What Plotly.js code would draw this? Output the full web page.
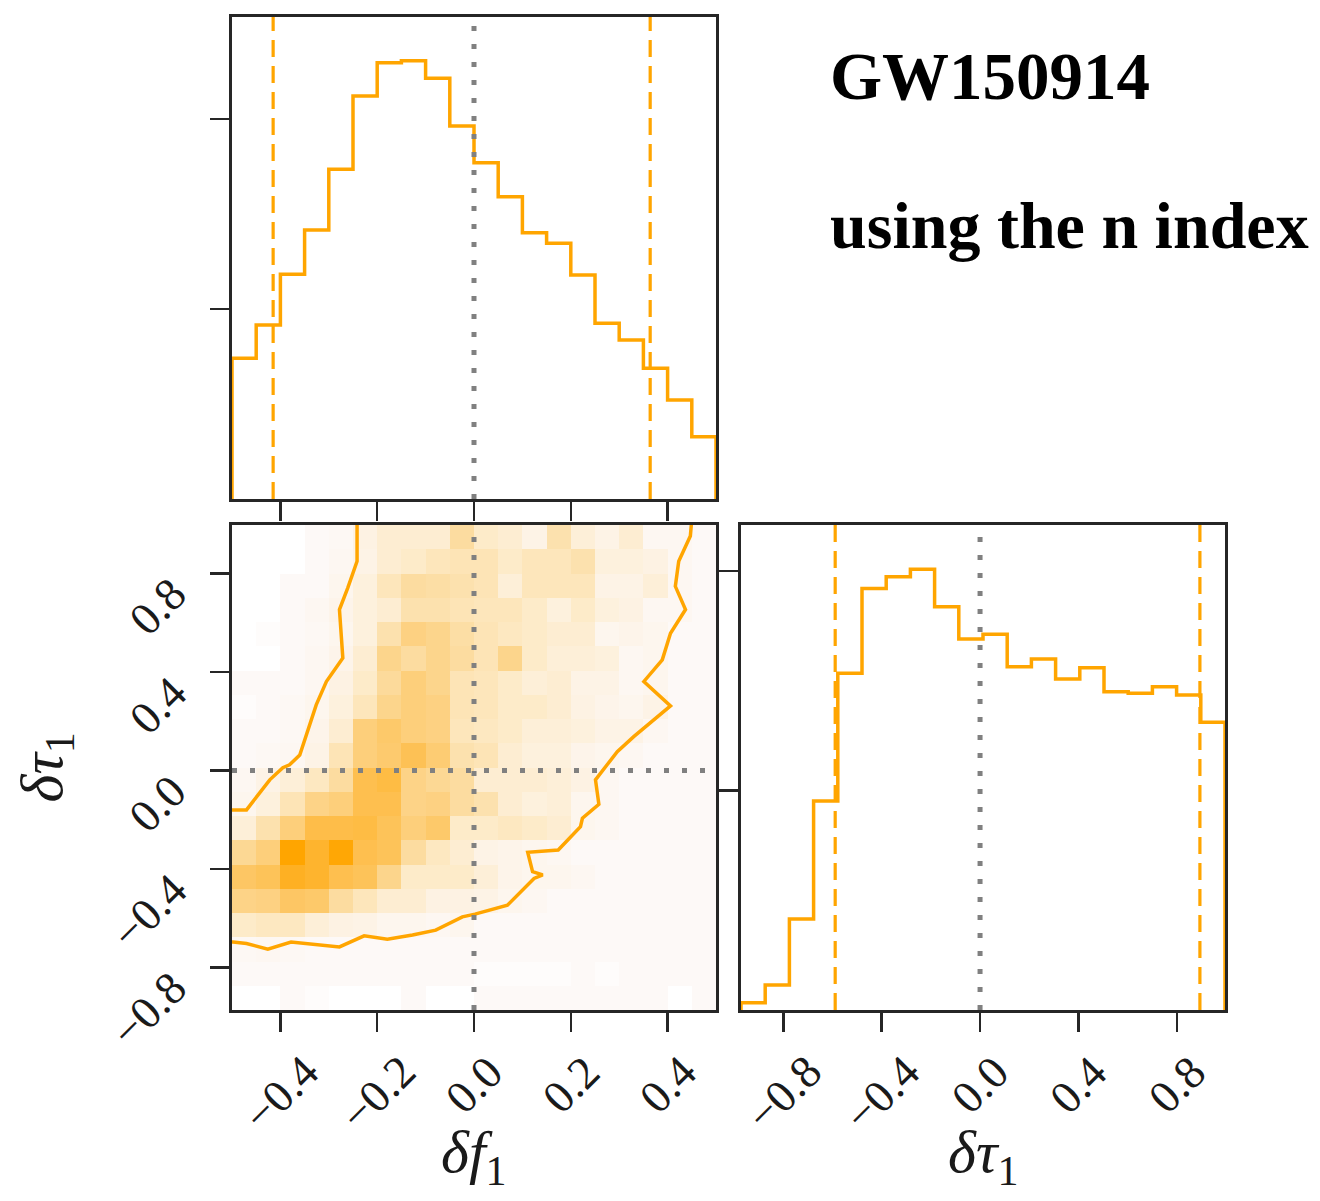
<!DOCTYPE html>
<html>
<head>
<meta charset="utf-8">
<script src="https://cdn.plot.ly/plotly-3.0.1.min.js"></script>
<style>
  html, body { margin: 0; padding: 0; background: #ffffff; }
  #chart { width: 1320px; height: 1201px; }
</style>
</head>
<body>
<div id="chart"></div>
<script>
// ---- posterior samples summarised as binned densities ----

// δf1 marginal: 20 equal bins spanning f1Range
const f1Range = [-0.5, 0.5];
const f1Hist = [0.741, 0.916, 1.183, 1.416, 1.735, 2.121, 2.296, 2.307, 2.214, 1.963,
                1.770, 1.591, 1.402, 1.346, 1.179, 0.925, 0.837, 0.688, 0.521, 0.328];

// δτ1 marginal: 20 equal bins spanning tau1Range
const tau1Range = [-0.972, 0.996];
const tau1Hist = [0.033, 0.114, 0.415, 0.952, 1.534, 1.921, 1.974, 2.008, 1.837, 1.690,
                  1.712, 1.564, 1.599, 1.508, 1.559, 1.450, 1.443, 1.473, 1.435, 1.311];

const nBins = 20;

// GR value of both deviation parameters
const truthF1 = 0.0;
const truthTau1 = 0.0;

// 90% credible bounds of each marginal
const f1Bounds = [-0.415, 0.364];
const tau1Bounds = [-0.589, 0.894];

// joint density (normalised), one row per δτ1 bin from the lowest upward,
// one column per δf1 bin from the left
const density = [
  [0, 0, 0.01, 0.005, 0, 0, 0, 0.01, 0, 0, 0.01, 0.01, 0.01, 0.01, 0.01, 0.01, 0.01, 0.01, 0, 0.01],
  [0.01, 0.01, 0.01, 0.01, 0.01, 0.01, 0.01, 0.01, 0.01, 0.01, 0.005, 0.005, 0.005, 0.005, 0.01, 0.005, 0.01, 0.01, 0.01, 0.01],
  [0.015, 0.02, 0.015, 0.01, 0.01, 0.01, 0.01, 0.01, 0.01, 0.01, 0.01, 0.01, 0.01, 0.01, 0.01, 0.01, 0.01, 0.01, 0.01, 0.01],
  [0.15, 0.18, 0.18, 0.1, 0.06, 0.05, 0.03, 0.03, 0.02, 0.03, 0.01, 0.01, 0.01, 0.01, 0.01, 0.01, 0.01, 0.01, 0.01, 0.01],
  [0.4, 0.42, 0.55, 0.52, 0.3, 0.2, 0.12, 0.12, 0.06, 0.06, 0.05, 0.03, 0.02, 0.01, 0.01, 0.01, 0.01, 0.01, 0.01, 0.01],
  [0.55, 0.6, 0.85, 0.8, 0.65, 0.6, 0.38, 0.15, 0.15, 0.15, 0.1, 0.04, 0.03, 0.03, 0.02, 0.01, 0.01, 0.01, 0.01, 0.01],
  [0.35, 0.45, 1.0, 0.8, 0.98, 0.65, 0.6, 0.3, 0.18, 0.12, 0.05, 0.04, 0.03, 0.02, 0.01, 0.01, 0.01, 0.01, 0.01, 0.01],
  [0.1, 0.25, 0.45, 0.68, 0.68, 0.7, 0.6, 0.45, 0.52, 0.15, 0.15, 0.18, 0.15, 0.12, 0.03, 0.02, 0.01, 0.01, 0.01, 0.01],
  [0.03, 0.08, 0.22, 0.4, 0.45, 0.65, 0.65, 0.4, 0.42, 0.3, 0.25, 0.12, 0.08, 0.1, 0.03, 0.02, 0.01, 0.01, 0.01, 0.01],
  [0.02, 0.05, 0.1, 0.18, 0.3, 0.65, 0.7, 0.4, 0.35, 0.3, 0.12, 0.12, 0.12, 0.1, 0.06, 0.02, 0.01, 0.01, 0.01, 0.01],
  [0.01, 0.015, 0.02, 0.05, 0.22, 0.45, 0.5, 0.62, 0.48, 0.25, 0.22, 0.12, 0.08, 0.08, 0.04, 0.03, 0.02, 0.01, 0.01, 0.01],
  [0.01, 0.01, 0.015, 0.04, 0.12, 0.45, 0.52, 0.45, 0.42, 0.2, 0.18, 0.15, 0.1, 0.1, 0.08, 0.05, 0.05, 0.02, 0.01, 0.01],
  [0.005, 0.01, 0.015, 0.03, 0.08, 0.2, 0.38, 0.45, 0.42, 0.22, 0.2, 0.15, 0.15, 0.12, 0.06, 0.04, 0.03, 0.05, 0.01, 0.01],
  [0.01, 0.01, 0.01, 0.02, 0.06, 0.15, 0.32, 0.45, 0.38, 0.22, 0.2, 0.15, 0.1, 0.12, 0.05, 0.05, 0.02, 0.03, 0.01, 0.01],
  [0, 0, 0.01, 0.02, 0.04, 0.12, 0.38, 0.3, 0.38, 0.3, 0.22, 0.38, 0.15, 0.1, 0.1, 0.08, 0.02, 0.03, 0.01, 0.01],
  [0, 0.005, 0.01, 0.015, 0.03, 0.08, 0.25, 0.42, 0.38, 0.28, 0.22, 0.18, 0.15, 0.12, 0.12, 0.03, 0.04, 0.03, 0.01, 0.01],
  [0, 0, 0.01, 0.02, 0.04, 0.08, 0.12, 0.25, 0.25, 0.22, 0.2, 0.2, 0.15, 0.08, 0.15, 0.08, 0.06, 0.02, 0.02, 0.01],
  [0, 0, 0.01, 0.01, 0.03, 0.08, 0.2, 0.3, 0.28, 0.25, 0.22, 0.1, 0.2, 0.2, 0.2, 0.05, 0.05, 0.1, 0.02, 0.01],
  [0, 0, 0, 0.01, 0.02, 0.05, 0.12, 0.15, 0.2, 0.22, 0.22, 0.15, 0.2, 0.2, 0.25, 0.08, 0.08, 0.06, 0.02, 0.01],
  [0, 0, 0, 0.01, 0.015, 0.06, 0.12, 0.12, 0.12, 0.3, 0.15, 0.12, 0.05, 0.25, 0.1, 0.05, 0.12, 0.02, 0.02, 0.01]
];

// credible-region contour, split where it leaves the panel
const contourUpperF1   = [-0.2416, -0.2416, -0.261, -0.278, -0.271, -0.305, -0.326, -0.360, -0.381, -0.395, -0.422, -0.470, -0.52];
const contourUpperTau1 = [1.02, 0.849, 0.740, 0.653, 0.456, 0.361, 0.266, 0.063, 0.023, 0.011, -0.038, -0.160, -0.160];
const contourLowerF1   = [-0.52, -0.498, -0.470, -0.426, -0.378, -0.278, -0.227, -0.179, -0.127, -0.079, -0.024, 0.002,
                          0.069, 0.124, 0.142, 0.121, 0.111, 0.174, 0.220, 0.224, 0.258, 0.251, 0.275, 0.296, 0.330,
                          0.406, 0.351, 0.389, 0.406, 0.437, 0.416, 0.423, 0.447, 0.450];
const contourLowerTau1 = [-0.696, -0.696, -0.702, -0.725, -0.696, -0.716, -0.671, -0.685, -0.668, -0.648, -0.594, -0.583,
                          -0.547, -0.438, -0.424, -0.411, -0.332, -0.323, -0.228, -0.194, -0.137, -0.038, 0.023, 0.076, 0.137,
                          0.262, 0.361, 0.449, 0.557, 0.653, 0.747, 0.849, 0.951, 1.02];

// tick positions
const f1Ticks = [-0.4, -0.2, 0.0, 0.2, 0.4];
const tau1Ticks = [-0.8, -0.4, 0.0, 0.4, 0.8];
const histTicks = [1, 2];

// event name and analysis note
const eventName = 'GW150914';
const analysisNote = 'using the n index';

// ---- helpers ----
const ORANGE = '#ffa500';
const AXIS = '#262626';
const TRUTH = '#808080';
const SERIF = 'Liberation Serif, Times New Roman, serif';

function binEdges(range, n) {
  const w = (range[1] - range[0]) / n;
  return Array.from({ length: n + 1 }, (_, i) => range[0] + i * w);
}

function stepOutline(edges, heights) {
  const x = [edges[0]];
  const y = [0];
  heights.forEach((h, i) => { x.push(edges[i]); y.push(h); });
  x.push(edges[edges.length - 1]); y.push(heights[heights.length - 1]);
  x.push(edges[edges.length - 1]); y.push(0);
  return { x, y };
}

function tickText(v) {
  const s = Math.abs(v).toFixed(1);
  return v < 0 ? '\u2212' + s : s;
}

const f1Edges = binEdges(f1Range, nBins);
const tau1Edges = binEdges(tau1Range, nBins);
const f1Step = stepOutline(f1Edges, f1Hist);
const tau1Step = stepOutline(tau1Edges, tau1Hist);

// ---- traces ----
const traces = [
  {
    type: 'scatter', mode: 'lines', xaxis: 'x', yaxis: 'y',
    x: f1Step.x, y: f1Step.y,
    line: { color: ORANGE, width: 3.5, shape: 'hv' },
    hoverinfo: 'skip', showlegend: false
  },
  {
    type: 'heatmap', xaxis: 'x2', yaxis: 'y2',
    x: f1Edges, y: tau1Edges, z: density,
    zmin: 0, zmax: 1, showscale: false, hoverinfo: 'skip',
    colorscale: [
      [0, '#ffffff'], [0.005, '#fefcfb'], [0.012, '#fdf8f5'], [0.05, '#fdf3e6'],
      [0.15, '#fdebc9'], [0.3, '#fcdca0'], [0.5, '#fdca6e'], [0.75, '#feb83a'], [1, '#ffa500']
    ]
  },
  {
    type: 'scatter', mode: 'lines', xaxis: 'x2', yaxis: 'y2',
    x: contourUpperF1, y: contourUpperTau1,
    line: { color: ORANGE, width: 3.5 }, hoverinfo: 'skip', showlegend: false
  },
  {
    type: 'scatter', mode: 'lines', xaxis: 'x2', yaxis: 'y2',
    x: contourLowerF1, y: contourLowerTau1,
    line: { color: ORANGE, width: 3.5 }, hoverinfo: 'skip', showlegend: false
  },
  {
    type: 'scatter', mode: 'lines', xaxis: 'x3', yaxis: 'y3',
    x: tau1Step.x, y: tau1Step.y,
    line: { color: ORANGE, width: 3.5, shape: 'hv' },
    hoverinfo: 'skip', showlegend: false
  }
];

// ---- reference lines ----
const dotted = { color: TRUTH, width: 5, dash: '5px,13px' };
const dashed = { color: ORANGE, width: 3.2, dash: '17px,9px' };
const shapes = [
  { type: 'line', xref: 'x', yref: 'y domain', x0: truthF1, x1: truthF1, y0: 0, y1: 1, line: dotted },
  { type: 'line', xref: 'x2', yref: 'y2 domain', x0: truthF1, x1: truthF1, y0: 0, y1: 1, line: dotted },
  { type: 'line', xref: 'x2 domain', yref: 'y2', x0: 0, x1: 1, y0: truthTau1, y1: truthTau1, line: dotted },
  { type: 'line', xref: 'x3', yref: 'y3 domain', x0: truthTau1, x1: truthTau1, y0: 0, y1: 1, line: dotted }
];
f1Bounds.forEach(b => shapes.push({ type: 'line', xref: 'x', yref: 'y domain', x0: b, x1: b, y0: 0, y1: 1, line: dashed }));
tau1Bounds.forEach(b => shapes.push({ type: 'line', xref: 'x3', yref: 'y3 domain', x0: b, x1: b, y0: 0, y1: 1, line: dashed }));

// ---- labels ----
const W = 1320, H = 1201;
const px = v => v / W;
const py = v => 1 - v / H;
const tickFont = { family: SERIF, size: 46, color: '#1a1a1a' };
const titleFont = { family: SERIF, size: 60, color: '#1a1a1a' };

const annotations = [];
f1Ticks.forEach(v => annotations.push({
  xref: 'x2', x: v, yref: 'paper', y: py(1043), xanchor: 'center', yanchor: 'top',
  textangle: -45, text: tickText(v), showarrow: false, font: tickFont
}));
tau1Ticks.forEach(v => annotations.push({
  xref: 'x3', x: v, yref: 'paper', y: py(1043), xanchor: 'center', yanchor: 'top',
  textangle: -45, text: tickText(v), showarrow: false, font: tickFont
}));
tau1Ticks.forEach(v => annotations.push({
  xref: 'paper', x: px(199), yref: 'y2', y: v, yshift: 8, xanchor: 'right', yanchor: 'top',
  textangle: -45, text: tickText(v), showarrow: false, font: tickFont
}));
annotations.push(
  { xref: 'x2 domain', x: 0.5, yref: 'paper', y: py(1117), xanchor: 'center', yanchor: 'top',
    text: '<i>δf</i><sub>1</sub>', showarrow: false, font: titleFont },
  { xref: 'x3 domain', x: 0.5, yref: 'paper', y: py(1117), xanchor: 'center', yanchor: 'top',
    text: '<i>δτ</i><sub>1</sub>', showarrow: false, font: titleFont },
  { xref: 'paper', x: px(46), yref: 'y2 domain', y: 0.5, xanchor: 'center', yanchor: 'middle',
    textangle: -90, text: '<i>δτ</i><sub>1</sub>', showarrow: false, font: titleFont },
  { xref: 'paper', x: px(828), yref: 'paper', y: py(37), xanchor: 'left', yanchor: 'top',
    text: '<b>' + eventName + '</b>', showarrow: false,
    font: { family: SERIF, size: 67, color: '#000000' } },
  { xref: 'paper', x: px(828), yref: 'paper', y: py(187), xanchor: 'left', yanchor: 'top',
    text: '<b>' + analysisNote + '</b>', showarrow: false,
    font: { family: SERIF, size: 66, color: '#000000' } }
);

// ---- axes ----
const axisBase = {
  showgrid: false, zeroline: false, showline: true, mirror: true,
  linecolor: AXIS, linewidth: 3,
  ticks: 'outside', ticklen: 19, tickwidth: 2.5, tickcolor: AXIS,
  showticklabels: false, tickmode: 'array', fixedrange: true
};
const leftCol = [px(232), px(716)];
const rightCol = [px(741), px(1225)];
const topRow = [py(499), py(17)];
const bottomRow = [py(1010), py(525)];

const layout = {
  width: W, height: H,
  margin: { l: 0, r: 0, t: 0, b: 0 },
  paper_bgcolor: '#ffffff', plot_bgcolor: '#ffffff',
  showlegend: false,
  xaxis:  Object.assign({}, axisBase, { domain: leftCol,  anchor: 'y',  range: f1Range, tickvals: f1Ticks }),
  yaxis:  Object.assign({}, axisBase, { domain: topRow,   anchor: 'x',  range: [0, 2.537], tickvals: histTicks }),
  xaxis2: Object.assign({}, axisBase, { domain: leftCol,  anchor: 'y2', range: f1Range, tickvals: f1Ticks }),
  yaxis2: Object.assign({}, axisBase, { domain: bottomRow, anchor: 'x2', range: tau1Range, tickvals: tau1Ticks }),
  xaxis3: Object.assign({}, axisBase, { domain: rightCol, anchor: 'y3', range: tau1Range, tickvals: tau1Ticks }),
  yaxis3: Object.assign({}, axisBase, { domain: bottomRow, anchor: 'x3', range: [0, 2.21], tickvals: histTicks }),
  shapes: shapes,
  annotations: annotations
};

Plotly.newPlot('chart', traces, layout, { staticPlot: true, displayModeBar: false });
</script>
</body>
</html>
